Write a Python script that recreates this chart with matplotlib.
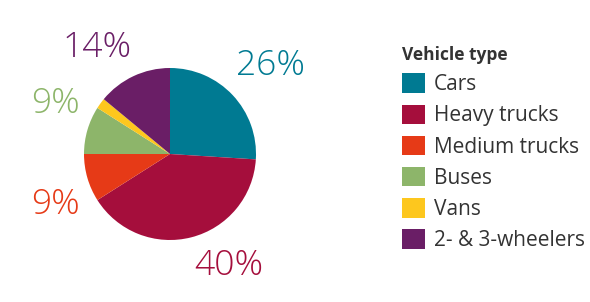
import matplotlib
matplotlib.use("Agg")
import matplotlib.pyplot as plt
from matplotlib.patches import Patch

categories = ["Cars", "Heavy trucks", "Medium trucks", "Buses", "Vans", "2- & 3-wheelers"]
shares = [26, 40, 9, 9, 2, 14]
labels = ["26%", "40%", "9%", "9%", "", "14%"]
colors = ["#007A92", "#A50E3C", "#E63A17", "#8DB56A", "#FDC71E", "#6A1E66"]

# label positions in pie data units (radius = 1)
label_pos = [(1.174, 1.023), (0.686, -1.302), (-1.326, -0.593), (-1.326, 0.581), None, (-0.849, 1.233)]

plt.rcParams['font.family'] = ['Open Sans', 'DejaVu Sans']

fig = plt.figure(figsize=(5.9, 3.02), dpi=100)
ax = fig.add_axes([84 / 590, 62 / 302, 172 / 590, 172 / 302])
ax.pie(shares, colors=colors, startangle=90, counterclock=False, radius=1,
       wedgeprops=dict(linewidth=0))
ax.set_xlim(-1, 1)
ax.set_ylim(-1, 1)
ax.set_aspect('equal')
ax.axis('off')

for lab, pos, c in zip(labels, label_pos, colors):
    if lab and pos is not None:
        ax.text(pos[0], pos[1], lab, color=c, fontsize=25.5, fontweight='light',
                ha='center', va='center', clip_on=False)

handles = [Patch(facecolor=c, edgecolor='none') for c in colors]
leg = fig.legend(handles, categories, loc='upper left', bbox_to_anchor=(402 / 590, 1 - 46 / 302),
                 frameon=False, fontsize=15, title="Vehicle type",
                 title_fontproperties={'weight': 'bold', 'size': 12.5},
                 handlelength=1.1, handleheight=1.06, handletextpad=0.42,
                 labelspacing=0.45, borderaxespad=0, borderpad=0)
leg._legend_box.align = "left"
for t in leg.get_texts():
    t.set_color('#333333')
leg.get_title().set_color('#333333')

fig.savefig("out.png", dpi=100)
